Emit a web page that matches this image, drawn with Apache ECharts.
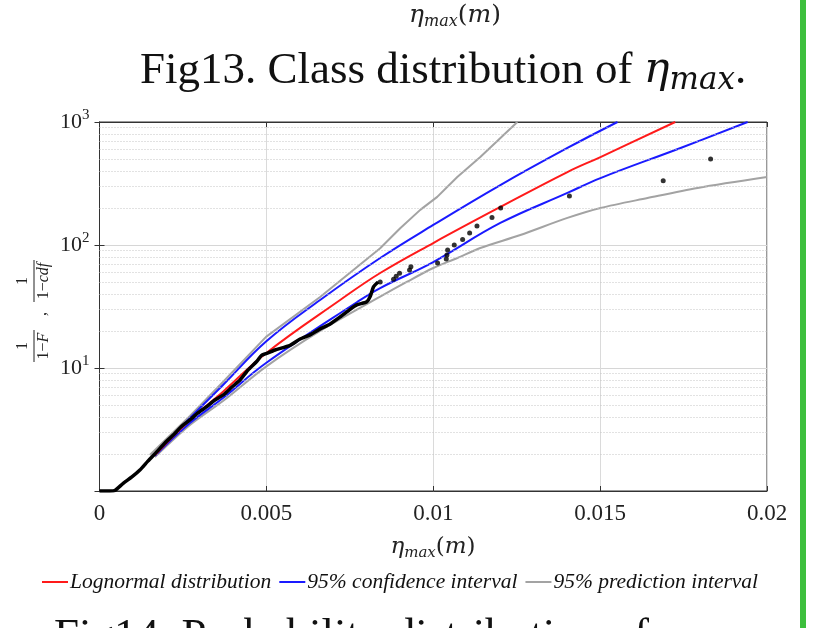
<!DOCTYPE html>
<html><head><meta charset="utf-8">
<script src="https://cdn.jsdelivr.net/npm/echarts@6/dist/echarts.min.js"></script>
<style>html,body{margin:0;padding:0;background:#fff}#c{width:840px;height:628px}</style>
</head><body><div id="c"></div>
<script>
// ---- tick labels ----
const xTickLabels = ['0', '0.005', '0.01', '0.015', '0.02'];
const yTickExponents = ['0', '1', '2', '3'];
const minorGridValues = [2,3,4,5,6,7,8,9,20,30,40,50,60,70,80,90,200,300,400,500,600,700,800,900];

// ---- Lognormal distribution ----
const lognormalX = [0.00166, 0.00271, 0.00370, 0.00499, 0.00721, 0.00841, 0.01000, 0.01201, 0.01402, 0.01501, 0.01725];
const lognormalY = [1.96, 3.78, 6.42, 13.2, 35.7, 59.2, 103.8, 203.7, 392, 519, 1000];

// ---- 95% confidence interval ----
const ciUpperX = [0.00166, 0.00271, 0.00370, 0.00499, 0.00661, 0.00841, 0.01000, 0.01201, 0.01402, 0.01552];
const ciUpperY = [2.0, 3.92, 7.27, 16.4, 35.7, 78.4, 145.5, 307, 615, 1000];
const ciLowerX = [0.00166, 0.00271, 0.00370, 0.00499, 0.00772, 0.00841, 0.01000, 0.01201, 0.01402, 0.01501, 0.01741, 0.01942];
const ciLowerY = [1.93, 3.57, 5.70, 10.98, 34.4, 44.7, 72.7, 151, 265, 350, 615, 1000];

// ---- 95% prediction interval ----
const piUpperX = [0.00151, 0.00271, 0.00370, 0.00499, 0.00661, 0.00841, 0.00901, 0.00961, 0.01012, 0.01072, 0.01141, 0.01195, 0.01252];
const piUpperY = [1.96, 4.07, 7.70, 17.9, 37.8, 94, 137, 193, 246, 357, 519, 714, 1000];
const piLowerX = [0.00166, 0.00271, 0.00370, 0.00499, 0.00661, 0.00841, 0.00922, 0.01000, 0.01072, 0.01141, 0.01261, 0.01402, 0.01501, 0.01642, 0.01792, 0.02000];
const piLowerY = [1.89, 3.44, 5.39, 10.25, 20.0, 38.0, 50.3, 65.0, 78.4, 94.6, 120.6, 166, 200, 241, 291, 357];

const empDenseX = [0, 0.00031, 0.00046, 0.00071, 0.00097, 0.00121, 0.00145, 0.00172, 0.00196, 0.00221, 0.00244, 0.00271, 0.00295, 0.00321, 0.00346, 0.00371, 0.00397, 0.00421, 0.00445, 0.00471, 0.00486, 0.00496, 0.00526, 0.00571, 0.00601, 0.00631, 0.00661, 0.00691, 0.00721, 0.00751, 0.00771, 0.00801, 0.00811, 0.00821, 0.00835];
const empDenseY = [1.0, 1.0, 1.01, 1.155, 1.30, 1.48, 1.75, 2.09, 2.46, 2.85, 3.31, 3.78, 4.31, 4.85, 5.49, 6.04, 7.0, 7.98, 9.64, 11.3, 12.7, 13.0, 14.0, 15.3, 17.2, 18.6, 20.8, 22.8, 26.0, 30.0, 32.6, 34.6, 38.1, 45.7, 50.0];
// ---- empirical data (sparse tail points) ----
const empTailX = [0.00841, 0.00881, 0.00889, 0.00899, 0.00929, 0.00933, 0.01013, 0.01039, 0.01041, 0.01043, 0.01063, 0.01088, 0.01109, 0.01131, 0.01176, 0.01202, 0.01408, 0.01689, 0.01831];
const empTailY = [50, 52.6, 55.6, 58.8, 62.5, 66.7, 71.4, 77, 83, 91, 100, 111, 125, 143, 167, 200, 250, 333, 500];

const zip = (xs, ys) => xs.map((x, i) => [x, ys[i]]);
const SERIF = 'Liberation Serif';
const MATH = 'DejaVu Serif';
const RED = '#ff1a1a', BLUE = '#1a1aff', GRAY = '#a3a3a3';

const chart = echarts.init(document.getElementById('c'), null, {renderer: 'canvas'});

const lineSeries = (name, xs, ys, color, z, smooth) => ({
  name, type: 'line', data: zip(xs, ys), showSymbol: false, symbol: 'none',
  smooth: smooth, lineStyle: {color, width: 2}, itemStyle: {color}, z, silent: true, clip: true
});

const mathLabel = (size, subSize, subPad) => ({
  text: '{i|η}{s|max}{n|(}{i|m}{n|)}', align: 'center', verticalAlign: 'middle',
  rich: {i: {fontFamily: MATH, fontStyle: 'italic', fontSize: size, fill: '#222'},
         n: {fontFamily: MATH, fontSize: size, fill: '#222'},
         s: {fontFamily: MATH, fontStyle: 'italic', fontSize: subSize, fill: '#222', padding: [subPad, 0, 0, 0]}}
});

chart.setOption({
  animation: false,
  backgroundColor: '#fff',
  grid: {left: 99.5, right: 73, top: 122, bottom: 137, show: true, borderColor: '#333', borderWidth: 1, backgroundColor: 'transparent'},
  xAxis: [{
    type: 'value', min: 0, max: 0.02, interval: 0.005,
    axisLine: {show: true, lineStyle: {color: '#333', width: 1}},
    axisTick: {show: true, inside: true, length: 5, lineStyle: {color: '#333'}},
    axisLabel: {margin: 11, fontFamily: SERIF, fontSize: 23, color: '#222',
      formatter: v => xTickLabels[Math.round(v / 0.005)]},
    splitLine: {show: true, lineStyle: {color: '#dadada', width: 1}}
  }, {
    type: 'value', min: 0, max: 0.02, interval: 0.005, position: 'top',
    axisLine: {show: true, lineStyle: {color: '#333'}},
    axisTick: {show: true, inside: true, length: 5, lineStyle: {color: '#333'}},
    axisLabel: {show: false}, splitLine: {show: false}
  }],
  yAxis: [{
    type: 'log', logBase: 10, min: 1, max: 1000, splitNumber: 3,
    axisLine: {show: true, lineStyle: {color: '#333'}},
    axisTick: {show: true, inside: true, length: 5, lineStyle: {color: '#333'}},
    axisLabel: {margin: 10, fontFamily: SERIF, fontSize: 22, color: '#222',
      formatter: v => {
        const e = Math.round(Math.log10(v));
        if (e === 0) return '';
        return '{b|10}{s|' + yTickExponents[e] + '}';
      },
      rich: {b: {fontFamily: SERIF, fontSize: 22, color: '#222'},
             s: {fontFamily: SERIF, fontSize: 15, color: '#222', padding: [0, 0, 13, 0]}}
    },
    splitLine: {show: true, lineStyle: {color: '#d6d6d6', width: 1}}
  }, {
    type: 'log', logBase: 10, min: 1, max: 1000, splitNumber: 3, position: 'right',
    axisLine: {show: true, lineStyle: {color: '#333'}},
    axisTick: {show: true, inside: true, length: 5, lineStyle: {color: '#333'}},
    axisLabel: {show: false}, splitLine: {show: false}
  }],
  legend: {
    left: 42, top: 571, padding: 0, itemGap: 8, itemWidth: 26, itemHeight: 2, icon: 'rect',
    data: ['Lognormal distribution', '95% confidence interval', '95% prediction interval'],
    textStyle: {fontFamily: SERIF, fontStyle: 'italic', fontSize: 21.5, color: '#111', padding: [0, 0, 0, -3]},
    selectedMode: false
  },
  series: [
    {name: 'minor-grid', type: 'line', data: [], silent: true, z: 1,
     markLine: {silent: true, symbol: 'none', label: {show: false}, animation: false,
       lineStyle: {type: [1, 2], color: '#c4c4c4', width: 1},
       data: minorGridValues.map(v => ({yAxis: v}))}},
    lineSeries('95% prediction interval', piUpperX, piUpperY, GRAY, 3, false),
    lineSeries('95% prediction interval', piLowerX, piLowerY, GRAY, 3, 0.3),
    lineSeries('95% confidence interval', ciUpperX, ciUpperY, BLUE, 4, 0.4),
    lineSeries('95% confidence interval', ciLowerX, ciLowerY, BLUE, 4, 0.4),
    lineSeries('Lognormal distribution', lognormalX, lognormalY, RED, 5, 0.4),
    {name: 'data-dense', type: 'line', data: zip(empDenseX, empDenseY), showSymbol: false, symbol: 'none',
     smooth: 0.2, lineStyle: {color: '#000', width: 3.5}, z: 6, silent: true},
    {name: 'data-tail', type: 'scatter', data: zip(empTailX, empTailY), symbolSize: 5,
     itemStyle: {color: '#000'}, z: 6, silent: true}
  ],
  graphic: [
    {type: 'rect', left: 800, top: 0, shape: {width: 6, height: 628}, style: {fill: '#3dbf3d'}},
    {type: 'text', x: 455, y: 15, style: mathLabel(25, 16, 14)},
    {type: 'text', x: 140, y: 71, style: {
      text: '{t|Fig13. Class distribution of }{i|η}{s|max}{t|.}', align: 'left', verticalAlign: 'middle',
      rich: {t: {fontFamily: SERIF, fontSize: 45, fill: '#111'},
             i: {fontFamily: MATH, fontStyle: 'italic', fontSize: 43, fill: '#111'},
             s: {fontFamily: MATH, fontStyle: 'italic', fontSize: 31, fill: '#111', padding: [20, 0, 0, 0]}}}},
    {type: 'text', x: 54, y: 637, style: {
      text: 'Fig14. Probability distribution of', align: 'left', verticalAlign: 'middle',
      font: '45px "Liberation Serif"', fill: '#111'}},
    {type: 'text', x: 433, y: 547, style: mathLabel(23, 15, 13)},
    {type: 'group', x: 34, y: 311, rotation: Math.PI / 2, children: [
      {type: 'text', x: -35, y: -11, style: {text: '1', align: 'center', verticalAlign: 'middle', font: '16px "Liberation Serif"', fill: '#222'}},
      {type: 'line', shape: {x1: -51, y1: 0, x2: -19, y2: 0}, style: {stroke: '#222', lineWidth: 1}},
      {type: 'text', x: -35, y: 10, style: {text: '{n|1−}{i|F}', align: 'center', verticalAlign: 'middle',
        rich: {n: {fontFamily: SERIF, fontSize: 16, fill: '#222'}, i: {fontFamily: SERIF, fontStyle: 'italic', fontSize: 16, fill: '#222'}}}},
      {type: 'text', x: -3, y: 8, style: {text: ',', align: 'center', verticalAlign: 'middle', font: '16px "Liberation Serif"', fill: '#222'}},
      {type: 'text', x: 30, y: -11, style: {text: '1', align: 'center', verticalAlign: 'middle', font: '16px "Liberation Serif"', fill: '#222'}},
      {type: 'line', shape: {x1: 9, y1: 0, x2: 51, y2: 0}, style: {stroke: '#222', lineWidth: 1}},
      {type: 'text', x: 30, y: 10, style: {text: '{n|1−}{i|cdf}', align: 'center', verticalAlign: 'middle',
        rich: {n: {fontFamily: SERIF, fontSize: 16, fill: '#222'}, i: {fontFamily: SERIF, fontStyle: 'italic', fontSize: 16, fill: '#222'}}}}
    ]}
  ]
});
</script></body></html>
